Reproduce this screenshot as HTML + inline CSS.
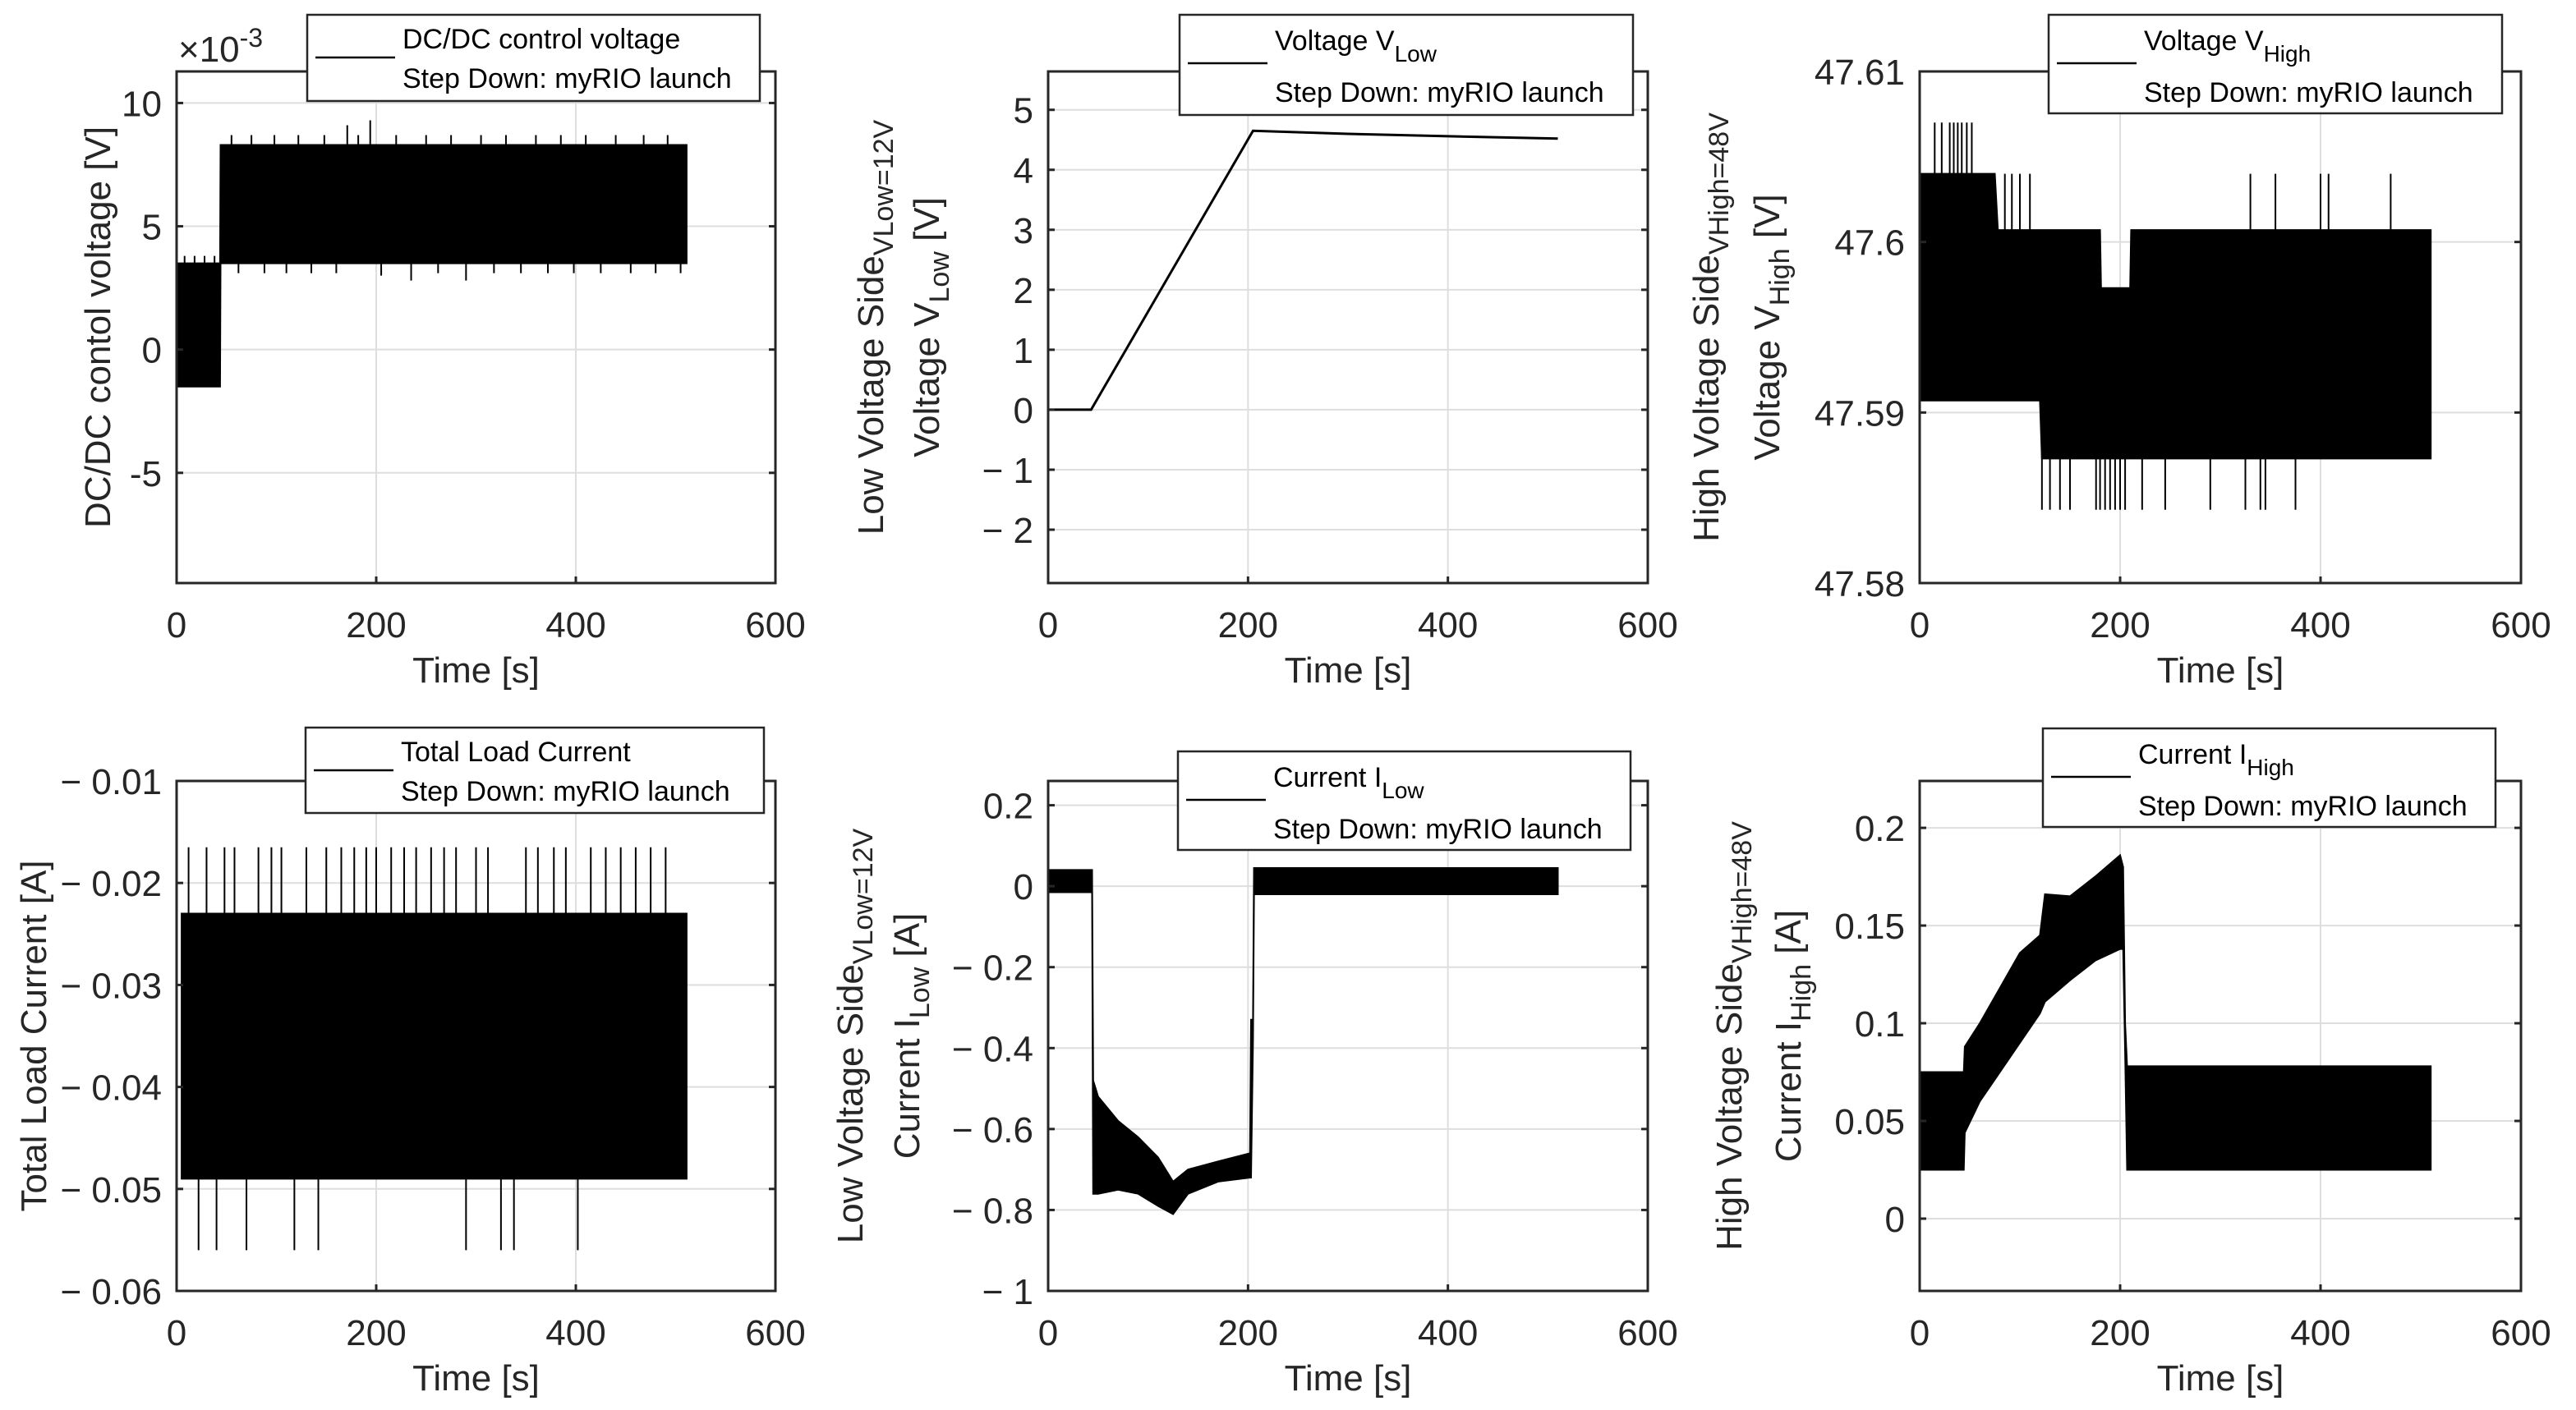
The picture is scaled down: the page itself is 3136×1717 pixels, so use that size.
<!DOCTYPE html>
<html><head><meta charset="utf-8"><style>
html,body{margin:0;padding:0;background:#fff;}
svg{display:block;font-family:"Liberation Sans",Arial,sans-serif;}
</style></head><body>
<svg id="fig" width="3136" height="1717" viewBox="0 0 3136 1717" xmlns="http://www.w3.org/2000/svg"></svg>
<script>
// ---- data ----
const xTicks = [0, 200, 400, 600];
// Panel 1: DC/DC control voltage (x1e-3 V)
const dcT  = [0, 43.5, 44, 511];
const dcHi = [3.5, 3.5, 8.3, 8.3];
const dcLo = [-1.5, -1.5, 3.5, 3.5];
const dcSpikeT = [8, 18, 28, 38, 55, 62, 75, 88, 98, 110, 122, 135, 148, 160, 171, 182, 194, 205, 220, 235, 250, 262, 275, 290, 305, 318, 330, 345, 360, 372, 385, 398, 410, 425, 440, 455, 468, 480, 492, 505];
const dcSpikeV = [3.8, 3.8, 3.8, 3.8, 8.7, 3.1, 8.7, 3.1, 8.7, 3.1, 8.7, 3.1, 8.7, 3.1, 9.1, 8.7, 9.3, 3.0, 8.7, 2.8, 8.7, 3.1, 8.7, 2.8, 8.7, 3.1, 8.7, 3.1, 8.7, 3.1, 8.7, 3.1, 8.7, 3.1, 8.7, 3.1, 8.7, 3.1, 8.7, 3.1];
const dcTicks = [-5, 0, 5, 10];
const dcTickLabels = ["-5", "0", "5", "10"];
// Panel 2: Voltage V_Low
const vlT = [0, 43, 205, 300, 400, 510];
const vlV = [0, 0, 4.65, 4.6, 4.56, 4.52];
const vlTicks = [-2, -1, 0, 1, 2, 3, 4, 5];
const vlTickLabels = ["\u2212 2", "\u2212 1", "0", "1", "2", "3", "4", "5"];
// Panel 3: Voltage V_High
const vhT  = [0, 75, 78, 120, 122, 180, 181, 210, 211, 510];
const vhHi = [47.604, 47.604, 47.6007, 47.6007, 47.6007, 47.6007, 47.5973, 47.5973, 47.6007, 47.6007];
const vhLo = [47.5907, 47.5907, 47.5907, 47.5907, 47.5873, 47.5873, 47.5873, 47.5873, 47.5873, 47.5873];
const vhSpikeT = [15, 22, 30, 34, 38, 42, 47, 52, 85, 92, 100, 110, 122, 130, 140, 150, 176, 180, 185, 190, 195, 200, 205, 222, 245, 290, 325, 330, 340, 345, 355, 375, 400, 408, 470];
const vhSpikeV = [47.607, 47.607, 47.607, 47.607, 47.607, 47.607, 47.607, 47.607, 47.604, 47.604, 47.604, 47.604, 47.5843, 47.5843, 47.5843, 47.5843, 47.5843, 47.5843, 47.5843, 47.5843, 47.5843, 47.5843, 47.5843, 47.5843, 47.5843, 47.5843, 47.5843, 47.604, 47.5843, 47.5843, 47.604, 47.5843, 47.604, 47.604, 47.604];
const vhTicks = [47.58, 47.59, 47.6, 47.61];
const vhTickLabels = ["47.58", "47.59", "47.6", "47.61"];
// Panel 4: Total load current
const tlT  = [5, 511];
const tlHi = [-0.023, -0.023];
const tlLo = [-0.049, -0.049];
const tlSpikeT = [12, 22, 30, 40, 48, 58, 70, 82, 95, 105, 118, 130, 142, 150, 165, 178, 190, 200, 215, 228, 240, 255, 268, 280, 290, 300, 312, 325, 338, 350, 362, 378, 390, 402, 415, 430, 445, 460, 475, 490];
const tlSpikeV = [-0.0165, -0.056, -0.0165, -0.056, -0.0165, -0.0165, -0.056, -0.0165, -0.0165, -0.0165, -0.056, -0.0165, -0.056, -0.0165, -0.0165, -0.0165, -0.0165, -0.0165, -0.0165, -0.0165, -0.0165, -0.0165, -0.0165, -0.0165, -0.056, -0.0165, -0.0165, -0.056, -0.056, -0.0165, -0.0165, -0.0165, -0.0165, -0.056, -0.0165, -0.0165, -0.0165, -0.0165, -0.0165, -0.0165];
const tlTicks = [-0.06, -0.05, -0.04, -0.03, -0.02, -0.01];
const tlTickLabels = ["\u2212 0.06", "\u2212 0.05", "\u2212 0.04", "\u2212 0.03", "\u2212 0.02", "\u2212 0.01"];
// Panel 5: Current I_Low
const ilT  = [0, 44, 45, 50, 70, 90, 110, 125, 140, 170, 202, 203, 205, 206, 510];
const ilHi = [0.04, 0.04, -0.48, -0.52, -0.58, -0.62, -0.67, -0.73, -0.70, -0.68, -0.66, -0.33, -0.33, 0.045, 0.045];
const ilLo = [-0.015, -0.015, -0.76, -0.76, -0.75, -0.76, -0.79, -0.81, -0.76, -0.73, -0.72, -0.72, -0.38, -0.02, -0.02];
const ilTicks = [-1, -0.8, -0.6, -0.4, -0.2, 0, 0.2];
const ilTickLabels = ["\u2212 1", "\u2212 0.8", "\u2212 0.6", "\u2212 0.4", "\u2212 0.2", "0", "0.2"];
// Panel 6: Current I_High
const ihT  = [0, 44, 45, 60, 80, 100, 120, 125, 150, 175, 200, 203, 205, 207, 510];
const ihHi = [0.075, 0.075, 0.088, 0.10, 0.118, 0.136, 0.145, 0.166, 0.165, 0.175, 0.186, 0.18, 0.10, 0.078, 0.078];
const ihLo = [0.025, 0.025, 0.044, 0.06, 0.075, 0.09, 0.105, 0.111, 0.122, 0.132, 0.138, 0.138, 0.085, 0.025, 0.025];
const ihTicks = [0, 0.05, 0.1, 0.15, 0.2];
const ihTickLabels = ["0", "0.05", "0.1", "0.15", "0.2"];

// ---- layout ----
const NS = "http://www.w3.org/2000/svg";
const svg = document.getElementById("fig");
function el(tag, attrs, parent) {
  const e = document.createElementNS(NS, tag);
  for (const k in attrs) e.setAttribute(k, attrs[k]);
  (parent || svg).appendChild(e);
  return e;
}
const cols = [[215, 944], [1276, 2006], [2337, 3069]];
const rows = [[87, 710], [951, 1572]];
const panels = [
  {name: "dc-control-voltage", c: 0, r: 0, ymin: -9.47, ymax: 11.28, ticks: dcTicks, labels: dcTickLabels,
   band: [dcT, dcHi, dcLo], spikes: [dcSpikeT, dcSpikeV], ylab: [["DC/DC contol voltage [V]"]],
   leg: ["DC/DC control voltage", ""], legBox: [374, 18, 551, 105], exp: true},
  {name: "voltage-vlow", c: 1, r: 0, ymin: -2.89, ymax: 5.64, ticks: vlTicks, labels: vlTickLabels,
   line: [vlT, vlV], ylab: [["Low Voltage Side", "VLow=12V", ""], ["Voltage V", "Low", " [V]"]],
   leg: ["Voltage V", "Low"], legBox: [1436, 18, 552, 122]},
  {name: "voltage-vhigh", c: 2, r: 0, ymin: 47.58, ymax: 47.61, ticks: vhTicks, labels: vhTickLabels,
   band: [vhT, vhHi, vhLo], spikes: [vhSpikeT, vhSpikeV], ylab: [["High Voltage Side", "VHigh=48V", ""], ["Voltage V", "High", " [V]"]],
   leg: ["Voltage V", "High"], legBox: [2494, 18, 552, 120]},
  {name: "total-load-current", c: 0, r: 1, ymin: -0.06, ymax: -0.01, ticks: tlTicks, labels: tlTickLabels,
   band: [tlT, tlHi, tlLo], spikes: [tlSpikeT, tlSpikeV], ylab: [["Total Load Current [A]"]],
   leg: ["Total Load Current", ""], legBox: [372, 886, 558, 104]},
  {name: "current-ilow", c: 1, r: 1, ymin: -1, ymax: 0.26, ticks: ilTicks, labels: ilTickLabels,
   band: [ilT, ilHi, ilLo], ylab: [["Low Voltage Side", "VLow=12V", ""], ["Current I", "Low", " [A]"]],
   leg: ["Current I", "Low"], legBox: [1434, 915, 551, 120]},
  {name: "current-ihigh", c: 2, r: 1, ymin: -0.037, ymax: 0.224, ticks: ihTicks, labels: ihTickLabels,
   band: [ihT, ihHi, ihLo], ylab: [["High Voltage Side", "VHigh=48V", ""], ["Current I", "High", " [A]"]],
   leg: ["Current I", "High"], legBox: [2487, 887, 551, 120]}
];
const ylabX = [[134], [1075, 1143], [2092, 2166], [56], [1050, 1119], [2120, 2192]];

function interp(ts, vs, t) {
  if (t <= ts[0]) return vs[0];
  for (let i = 1; i < ts.length; i++) if (t <= ts[i]) {
    const f = (t - ts[i-1]) / ((ts[i] - ts[i-1]) || 1);
    return vs[i-1] + f * (vs[i] - vs[i-1]);
  }
  return vs[vs.length - 1];
}

panels.forEach((p, idx) => {
  const x0 = cols[p.c][0], x1 = cols[p.c][1], y0 = rows[p.r][0], y1 = rows[p.r][1];
  const sx = t => x0 + t / 600 * (x1 - x0);
  const sy = v => y1 - (v - p.ymin) / (p.ymax - p.ymin) * (y1 - y0);
  const g = el("g", {});
  
  
  // grid
  const grid = el("g", {stroke: "#dedede", "stroke-width": 2}, g);
  
  
  xTicks.forEach(t => el("line", {x1: sx(t), x2: sx(t), y1: y0, y2: y1}, grid));
  p.ticks.forEach(v => el("line", {x1: x0, x2: x1, y1: sy(v), y2: sy(v)}, grid));
  // clip
  const cp = el("clipPath", {id: "clip" + idx}, g);
  el("rect", {x: x0, y: y0, width: x1 - x0, height: y1 - y0}, cp);
  const data = el("g", {"clip-path": "url(#clip" + idx + ")"}, g);
  
  
  if (p.band) {
    const [ts, hi, lo] = p.band;
    const pts = [];
    ts.forEach((t, i) => pts.push(sx(t).toFixed(1) + "," + sy(hi[i]).toFixed(1)));
    for (let i = ts.length - 1; i >= 0; i--) pts.push(sx(ts[i]).toFixed(1) + "," + sy(lo[i]).toFixed(1));
    const poly = el("polygon", {points: pts.join(" "), fill: "#000", stroke: "#000", "stroke-width": 2}, data);
    
    
  }
  if (p.spikes) {
    const [ts, vs] = p.spikes;
    const [bt, hi, lo] = p.band;
    ts.forEach((t, i) => {
      const mid = (interp(bt, hi, t) + interp(bt, lo, t)) / 2;
      const ln = el("line", {x1: sx(t), x2: sx(t), y1: sy(mid), y2: sy(vs[i]), stroke: "#000", "stroke-width": 2}, data);
      
      
    });
  }
  if (p.line) {
    const [ts, vs] = p.line;
    const pl = el("polyline", {points: ts.map((t, i) => sx(t) + "," + sy(vs[i])).join(" "), fill: "none", stroke: "#000", "stroke-width": 3}, data);
    
    
  }
  // box + ticks
  const ax = el("g", {stroke: "#262626", "stroke-width": 3, fill: "none"}, g);
  
  
  el("rect", {x: x0, y: y0, width: x1 - x0, height: y1 - y0}, ax);
  xTicks.forEach(t => { el("line", {x1: sx(t), x2: sx(t), y1: y1, y2: y1 - 8}, ax); el("line", {x1: sx(t), x2: sx(t), y1: y0, y2: y0 + 8}, ax); });
  p.ticks.forEach(v => { el("line", {x1: x0, x2: x0 + 8, y1: sy(v), y2: sy(v)}, ax); el("line", {x1: x1, x2: x1 - 8, y1: sy(v), y2: sy(v)}, ax); });
  // tick labels
  xTicks.forEach(t => {
    const tx = el("text", {x: sx(t), y: y1 + 66, "font-size": 44, "text-anchor": "middle", fill: "#262626"}, g);
    tx.textContent = String(t);
    
    
  });
  p.ticks.forEach((v, i) => {
    const tx = el("text", {x: x0 - 18, y: sy(v) + 16, "font-size": 44, "text-anchor": "end", fill: "#262626"}, g);
    tx.textContent = p.labels[i];
    
    
  });
  // x title
  const xt = el("text", {x: (x0 + x1) / 2, y: y1 + 121, "font-size": 44, "text-anchor": "middle", fill: "#262626"}, g);
  xt.textContent = "Time [s]";
  
  
  // y title
  const cy = (y0 + y1) / 2;
  p.ylab.forEach((parts, li) => {
    const bx = ylabX[idx][li];
    const tx = el("text", {transform: "translate(" + bx + "," + cy + ") rotate(-90)", "font-size": 44, "text-anchor": "middle", fill: "#262626"}, g);
    
    
    const a = el("tspan", {}, tx); a.textContent = parts[0];
    if (parts.length > 1) {
      const b = el("tspan", {dy: 12, "font-size": 34}, tx); b.textContent = parts[1];
      if (parts[2]) { const c = el("tspan", {dy: -12}, tx); c.textContent = parts[2]; }
    }
  });
  // exponent
  if (p.exp) {
    const ex = el("text", {x: x0 + 2, y: y0 - 12, "font-size": 44, fill: "#262626"}, g);
    
    
    const a = el("tspan", {}, ex); a.textContent = "\u00d710";
    const b = el("tspan", {dy: -18, "font-size": 32}, ex); b.textContent = "-3";
  }
  // legend
  const [lx, ly, lw, lh] = p.legBox;
  const lg = el("g", {}, g);
  
  
  el("rect", {x: lx, y: ly, width: lw, height: lh, fill: "#fff", stroke: "#262626", "stroke-width": 2.5}, lg);
  const hasSub = !!p.leg[1];
  const r1 = ly + (hasSub ? 43 : 41), r2 = ly + (hasSub ? 106 : 89);
  const ls = el("line", {x1: lx + 10, x2: lx + 107, y1: ly + (hasSub ? 59 : 52), y2: ly + (hasSub ? 59 : 52), stroke: "#000", "stroke-width": 2.5}, lg);
  
  
  const t1 = el("text", {x: lx + 116, y: r1, "font-size": 34, fill: "#000"}, lg);
  
  
  const ta = el("tspan", {}, t1); ta.textContent = p.leg[0];
  if (hasSub) { const tb = el("tspan", {dy: 14, "font-size": 28}, t1); tb.textContent = p.leg[1]; }
  const t2 = el("text", {x: lx + 116, y: r2, "font-size": 34, fill: "#000"}, lg);
  t2.textContent = "Step Down: myRIO launch";
  
  
});
</script>
</body></html>
